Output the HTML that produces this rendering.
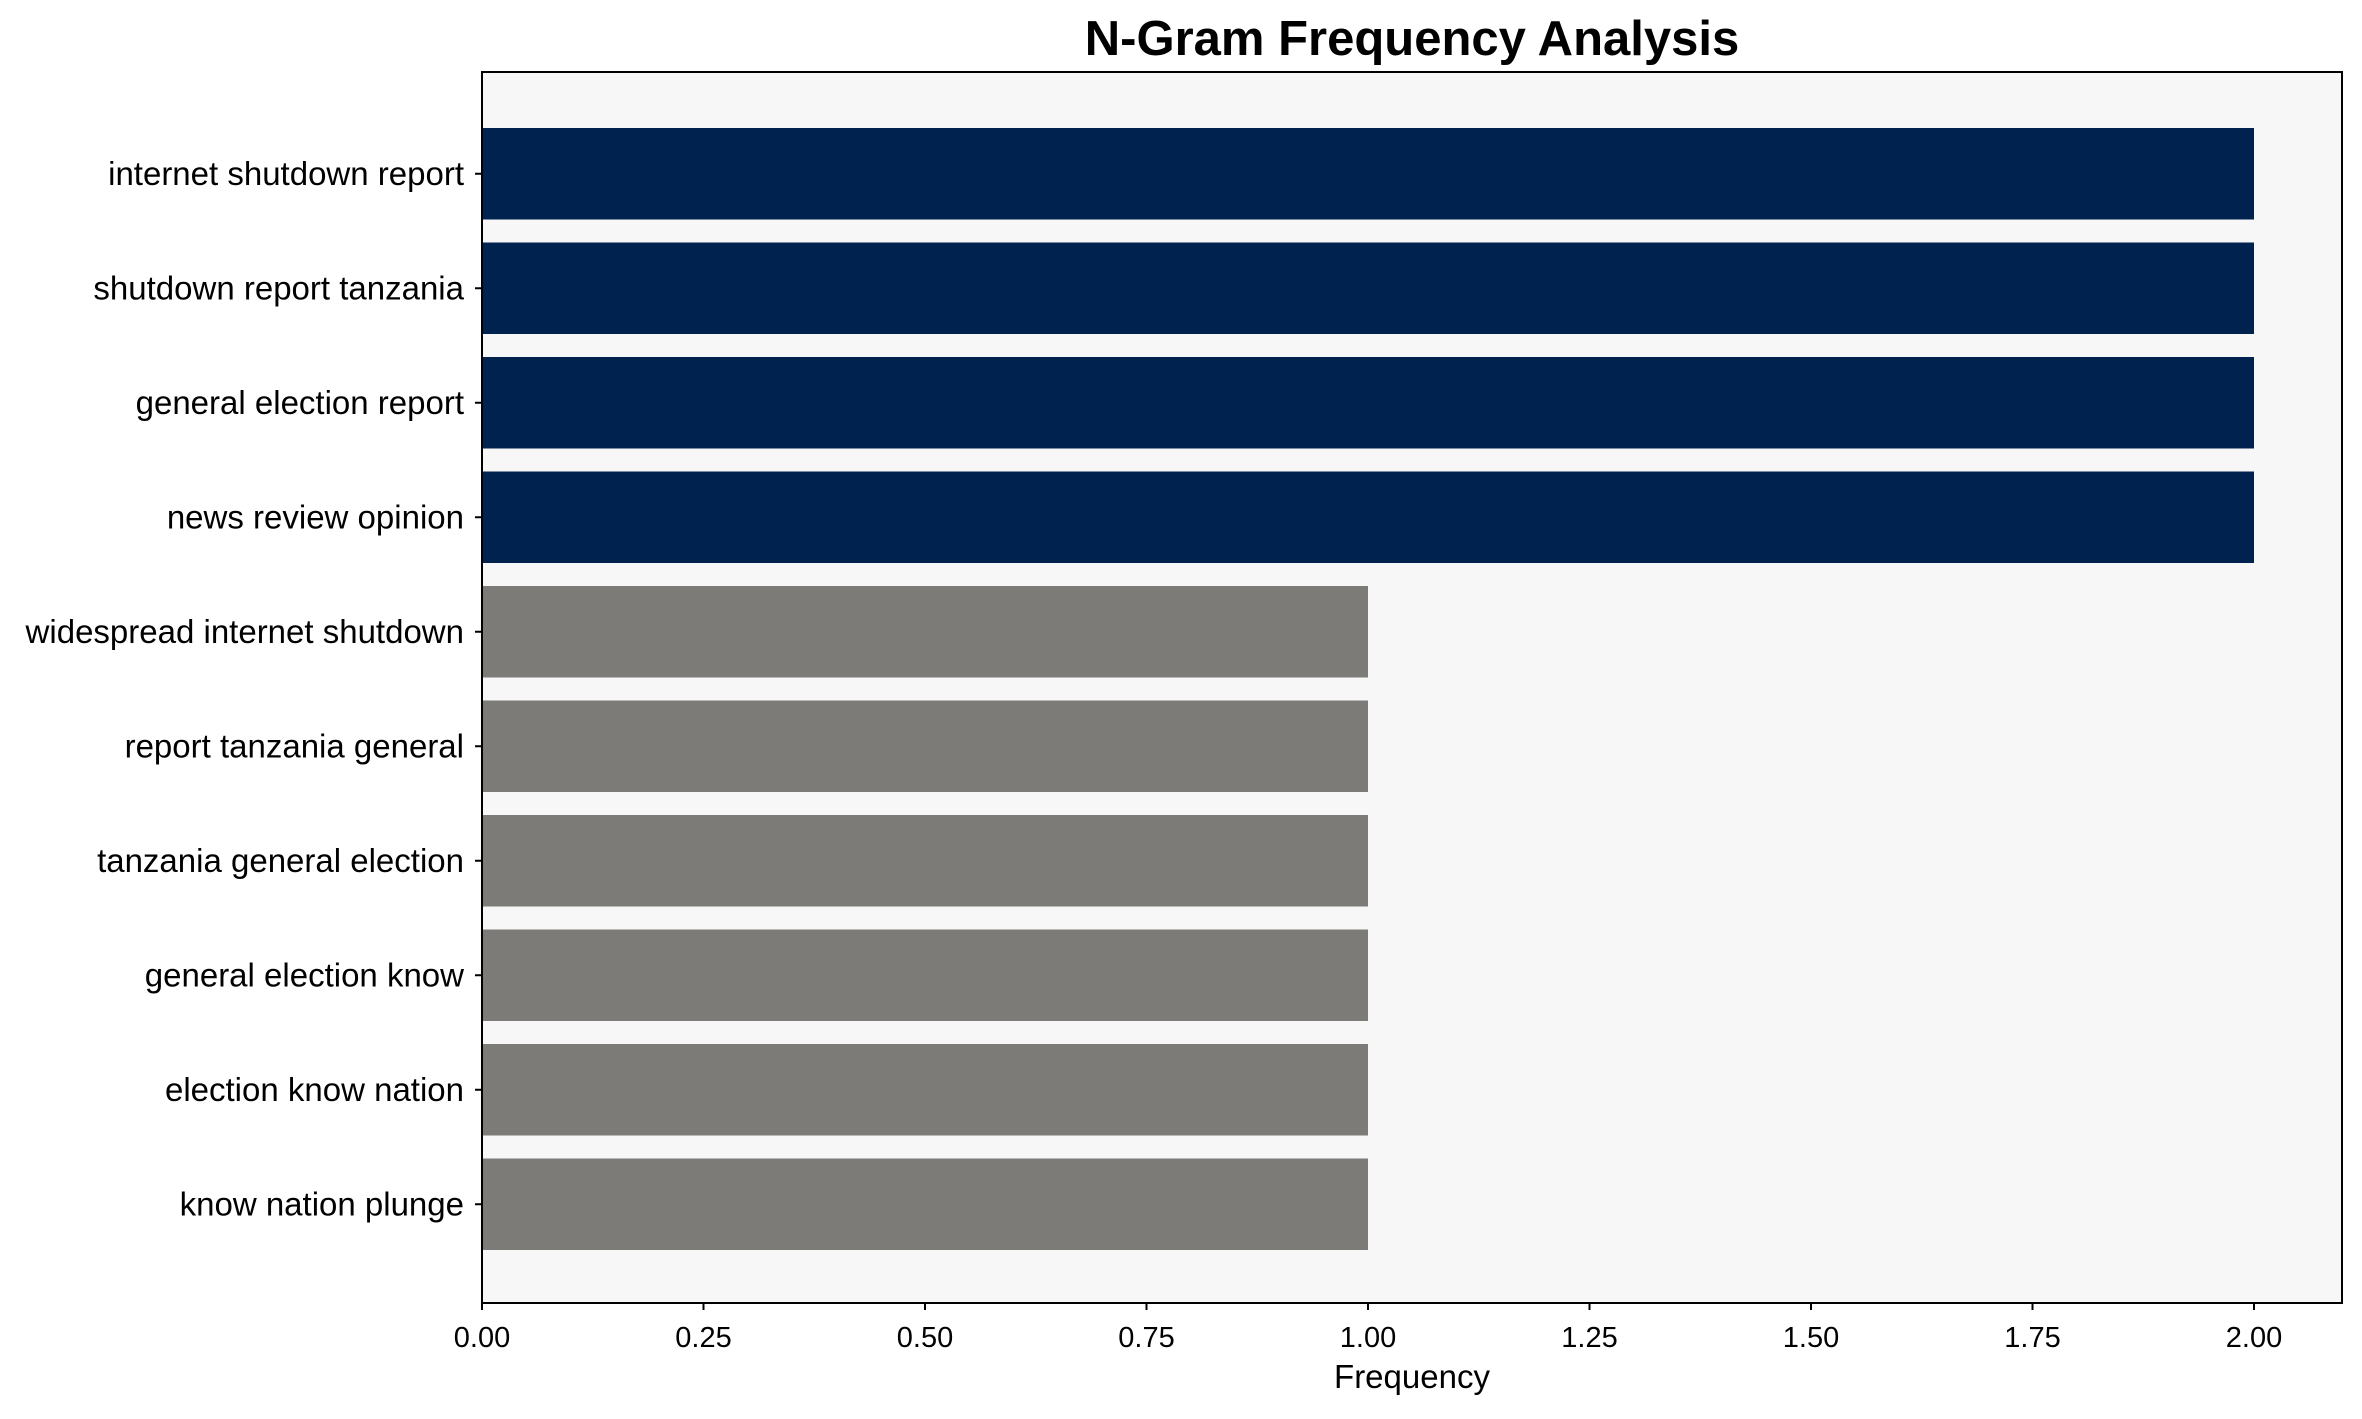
<!DOCTYPE html>
<html><head><meta charset="utf-8"><style>
html,body{margin:0;padding:0;background:#fff}
text{font-family:"Liberation Sans",Arial,sans-serif;fill:#000}
</style></head><body>
<svg width="2362" height="1414" xmlns="http://www.w3.org/2000/svg">
<rect x="0" y="0" width="2362" height="1414" fill="#fff"/>
<rect x="482" y="72" width="1860" height="1231" fill="#f7f7f7"/>
<g>
<rect x="482" y="128" width="1772" height="91.5" fill="#00224e"/>
<rect x="482" y="242.5" width="1772" height="91.5" fill="#00224e"/>
<rect x="482" y="357" width="1772" height="91.5" fill="#00224e"/>
<rect x="482" y="471.5" width="1772" height="91.5" fill="#00224e"/>
<rect x="482" y="586" width="886" height="91.5" fill="#7c7b78"/>
<rect x="482" y="700.5" width="886" height="91.5" fill="#7c7b78"/>
<rect x="482" y="815" width="886" height="91.5" fill="#7c7b78"/>
<rect x="482" y="929.5" width="886" height="91.5" fill="#7c7b78"/>
<rect x="482" y="1044" width="886" height="91.5" fill="#7c7b78"/>
<rect x="482" y="1158.5" width="886" height="91.5" fill="#7c7b78"/>
</g>
<rect x="482" y="72" width="1860" height="1231" fill="none" stroke="#000" stroke-width="2"/>
<g stroke="#000" stroke-width="2">
<line x1="475" x2="482" y1="173.75" y2="173.75"/><line x1="475" x2="482" y1="288.25" y2="288.25"/>
<line x1="475" x2="482" y1="402.75" y2="402.75"/><line x1="475" x2="482" y1="517.25" y2="517.25"/>
<line x1="475" x2="482" y1="631.75" y2="631.75"/><line x1="475" x2="482" y1="746.25" y2="746.25"/>
<line x1="475" x2="482" y1="860.75" y2="860.75"/><line x1="475" x2="482" y1="975.25" y2="975.25"/>
<line x1="475" x2="482" y1="1089.75" y2="1089.75"/><line x1="475" x2="482" y1="1204.25" y2="1204.25"/>
<line y1="1303" y2="1310" x1="482" x2="482"/><line y1="1303" y2="1310" x1="703.5" x2="703.5"/>
<line y1="1303" y2="1310" x1="925" x2="925"/><line y1="1303" y2="1310" x1="1146.5" x2="1146.5"/>
<line y1="1303" y2="1310" x1="1368" x2="1368"/><line y1="1303" y2="1310" x1="1589.5" x2="1589.5"/>
<line y1="1303" y2="1310" x1="1811" x2="1811"/><line y1="1303" y2="1310" x1="2032.5" x2="2032.5"/>
<line y1="1303" y2="1310" x1="2254" x2="2254"/>
</g>
<g font-size="33" text-anchor="end">
<text x="464" y="185">internet shutdown report</text>
<text x="464" y="299.5">shutdown report tanzania</text>
<text x="464" y="414">general election report</text>
<text x="464" y="528.5">news review opinion</text>
<text x="464" y="643">widespread internet shutdown</text>
<text x="464" y="757.5">report tanzania general</text>
<text x="464" y="872">tanzania general election</text>
<text x="464" y="986.5">general election know</text>
<text x="464" y="1101">election know nation</text>
<text x="464" y="1215.5">know nation plunge</text>
</g>
<g font-size="29" text-anchor="middle">
<text x="482" y="1347">0.00</text><text x="703.5" y="1347">0.25</text>
<text x="925" y="1347">0.50</text><text x="1146.5" y="1347">0.75</text>
<text x="1368" y="1347">1.00</text><text x="1589.5" y="1347">1.25</text>
<text x="1811" y="1347">1.50</text><text x="2032.5" y="1347">1.75</text>
<text x="2254" y="1347">2.00</text>
<text x="1412" y="1388" font-size="33">Frequency</text>
<text x="1412" y="55" font-size="49" font-weight="bold">N-Gram Frequency Analysis</text>
</g>
</svg>
</body></html>
